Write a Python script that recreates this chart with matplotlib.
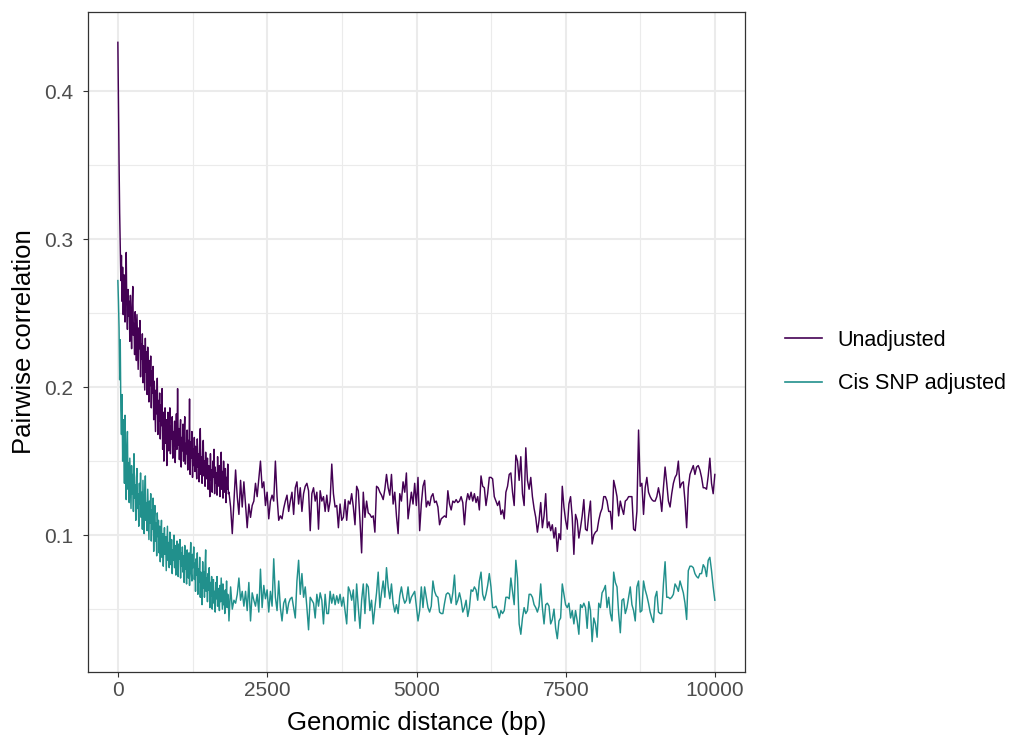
import numpy as np
import matplotlib
matplotlib.use("Agg")
import matplotlib.pyplot as plt
from matplotlib.lines import Line2D

# ---------------- data ----------------
series_labels = ["Unadjusted", "Cis SNP adjusted"]
series_colors = ["#440154", "#21908C"]

early_step = 10          # bp, short-distance bins
late_start, late_end = 1860, 9995

unadj_early = [
    0.433, 0.392, 0.352, 0.318, 0.296, 0.272, 0.289, 0.258, 0.281, 0.249,
    0.276, 0.262, 0.244, 0.270, 0.291, 0.252, 0.239, 0.266, 0.248, 0.258,
    0.231, 0.262, 0.246, 0.226, 0.255, 0.268, 0.235, 0.243, 0.222, 0.251,
    0.238, 0.218, 0.249, 0.231, 0.212, 0.240, 0.226, 0.245, 0.207, 0.229,
    0.219, 0.236, 0.203, 0.228, 0.214, 0.198, 0.233, 0.210, 0.224, 0.195,
    0.227, 0.206, 0.190, 0.218, 0.201, 0.221, 0.186, 0.211, 0.196, 0.214,
    0.178, 0.204, 0.188, 0.170, 0.198, 0.182, 0.206, 0.168, 0.191, 0.177,
    0.196, 0.165, 0.188, 0.174, 0.199, 0.158, 0.183, 0.150, 0.176, 0.186,
    0.162, 0.178, 0.147, 0.171, 0.183, 0.157, 0.169, 0.186, 0.155, 0.174,
    0.165, 0.180, 0.152, 0.170, 0.160, 0.177, 0.149, 0.168, 0.182, 0.158,
    0.199, 0.161, 0.172, 0.151, 0.169, 0.178, 0.146, 0.166, 0.157, 0.175,
    0.150, 0.168, 0.180, 0.148, 0.162, 0.155, 0.171, 0.144, 0.164, 0.153,
    0.192, 0.141, 0.163, 0.152, 0.170, 0.139, 0.158, 0.147, 0.166, 0.143,
    0.160, 0.150, 0.138, 0.165, 0.146, 0.155, 0.136, 0.161, 0.172, 0.141,
    0.153, 0.135, 0.158, 0.164, 0.140, 0.150, 0.133, 0.156, 0.145, 0.138,
    0.152, 0.131, 0.147, 0.140, 0.126, 0.155, 0.137, 0.144, 0.129, 0.150,
    0.139, 0.158, 0.128, 0.146, 0.135, 0.142, 0.127, 0.153, 0.133, 0.140,
    0.147, 0.126, 0.138, 0.156, 0.131, 0.143, 0.125, 0.150, 0.137, 0.129,
    0.145, 0.122, 0.139, 0.131, 0.148, 0.128,
]
adj_early = [
    0.272, 0.258, 0.240, 0.205, 0.232, 0.185, 0.168, 0.195, 0.150, 0.178,
    0.162, 0.135, 0.181, 0.142, 0.124, 0.158, 0.170, 0.131, 0.149, 0.122,
    0.152, 0.136, 0.118, 0.147, 0.128, 0.141, 0.116, 0.155, 0.125, 0.134,
    0.110, 0.139, 0.145, 0.118, 0.128, 0.106, 0.135, 0.121, 0.142, 0.112,
    0.129, 0.104, 0.137, 0.118, 0.101, 0.126, 0.140, 0.110, 0.122, 0.103,
    0.131, 0.114, 0.097, 0.123, 0.108, 0.128, 0.096, 0.117, 0.104, 0.125,
    0.089, 0.112, 0.120, 0.096, 0.108, 0.086, 0.115, 0.099, 0.110, 0.088,
    0.106, 0.082, 0.098, 0.110, 0.085, 0.101, 0.079, 0.094, 0.105, 0.087,
    0.099, 0.076, 0.092, 0.106, 0.083, 0.095, 0.078, 0.102, 0.088, 0.080,
    0.097, 0.074, 0.090, 0.083, 0.100, 0.078, 0.093, 0.073, 0.087, 0.096,
    0.080, 0.072, 0.094, 0.084, 0.097, 0.071, 0.088, 0.079, 0.092, 0.075,
    0.086, 0.068, 0.093, 0.077, 0.084, 0.067, 0.090, 0.079, 0.071, 0.088,
    0.066, 0.083, 0.095, 0.074, 0.069, 0.087, 0.078, 0.092, 0.070, 0.081,
    0.062, 0.084, 0.073, 0.088, 0.060, 0.077, 0.068, 0.085, 0.058, 0.075,
    0.070, 0.053, 0.082, 0.064, 0.075, 0.058, 0.079, 0.090, 0.062, 0.071,
    0.055, 0.074, 0.063, 0.078, 0.051, 0.068, 0.059, 0.072, 0.050, 0.065,
    0.070, 0.054, 0.062, 0.048, 0.068, 0.057, 0.072, 0.052, 0.064, 0.058,
    0.049, 0.066, 0.055, 0.071, 0.060, 0.050, 0.067, 0.053, 0.062, 0.047,
    0.063, 0.055, 0.069, 0.051, 0.060, 0.057,
]

unadj_late = [
    0.129, 0.119, 0.101, 0.123, 0.144, 0.126, 0.114, 0.137, 0.119, 0.136,
    0.121, 0.105, 0.121, 0.112, 0.120, 0.123, 0.135, 0.126, 0.138, 0.150,
    0.132, 0.136, 0.120, 0.129, 0.111, 0.123, 0.127, 0.123, 0.150, 0.126,
    0.110, 0.113, 0.111, 0.118, 0.123, 0.127, 0.116, 0.123, 0.129, 0.114,
    0.132, 0.136, 0.121, 0.132, 0.116, 0.128, 0.133, 0.135, 0.130, 0.103,
    0.128, 0.132, 0.123, 0.129, 0.104, 0.130, 0.123, 0.126, 0.116, 0.127,
    0.116, 0.123, 0.148, 0.128, 0.119, 0.120, 0.105, 0.121, 0.110, 0.112,
    0.124, 0.110, 0.123, 0.121, 0.128, 0.119, 0.107, 0.133, 0.130, 0.110,
    0.088, 0.129, 0.112, 0.123, 0.115, 0.114, 0.112, 0.113, 0.102, 0.133,
    0.132, 0.129, 0.127, 0.124, 0.131, 0.141, 0.132, 0.127, 0.141, 0.121,
    0.129, 0.113, 0.101, 0.128, 0.123, 0.136, 0.129, 0.142, 0.111, 0.120,
    0.129, 0.121, 0.135, 0.120, 0.139, 0.103, 0.121, 0.133,
    0.137, 0.119, 0.123, 0.120, 0.126, 0.128, 0.122, 0.123, 0.119, 0.107,
    0.111, 0.112, 0.113, 0.112, 0.130, 0.121, 0.117, 0.123, 0.122, 0.124,
    0.122, 0.123, 0.126, 0.122, 0.107, 0.122, 0.128, 0.124, 0.129, 0.123,
    0.128, 0.122, 0.126, 0.117, 0.140, 0.133, 0.132, 0.120, 0.128, 0.139,
    0.139, 0.138, 0.126, 0.123, 0.120, 0.123, 0.114, 0.117, 0.111, 0.129,
    0.133, 0.141, 0.142, 0.129, 0.120, 0.154, 0.150, 0.137,
    0.153, 0.128, 0.120, 0.159, 0.137, 0.131, 0.139, 0.126, 0.118, 0.112,
    0.102, 0.110, 0.122, 0.105, 0.113, 0.128, 0.105, 0.109, 0.103, 0.107,
    0.098, 0.105, 0.089, 0.101, 0.097, 0.133, 0.119, 0.110, 0.104, 0.121,
    0.126, 0.112, 0.087, 0.114, 0.110, 0.098, 0.105, 0.113, 0.124, 0.104,
    0.103, 0.114, 0.123, 0.094, 0.100, 0.102, 0.103, 0.110, 0.115, 0.118,
    0.126, 0.126, 0.123, 0.116, 0.116, 0.104, 0.137, 0.132,
    0.126, 0.113, 0.123, 0.118, 0.114, 0.123, 0.124, 0.126, 0.126, 0.126,
    0.104, 0.103, 0.116, 0.171, 0.133, 0.135, 0.114, 0.132, 0.139, 0.129,
    0.126, 0.124, 0.123, 0.123, 0.126, 0.132, 0.126, 0.116, 0.132, 0.146,
    0.135, 0.123, 0.119, 0.128, 0.135, 0.139, 0.141, 0.150, 0.132, 0.135,
    0.136, 0.123, 0.105, 0.132, 0.141, 0.144, 0.147, 0.141, 0.146, 0.147,
    0.144, 0.139, 0.132, 0.132, 0.131, 0.140, 0.152, 0.135, 0.128, 0.141,
]
adj_late = [
    0.042, 0.065, 0.050, 0.056, 0.054, 0.060, 0.071, 0.056, 0.062, 0.052,
    0.062, 0.049, 0.068, 0.042, 0.061, 0.056, 0.052, 0.060, 0.048, 0.077,
    0.051, 0.066, 0.057, 0.063, 0.048, 0.062, 0.052, 0.084, 0.058, 0.049,
    0.069, 0.051, 0.042, 0.054, 0.057, 0.047, 0.054, 0.057, 0.058, 0.051,
    0.044, 0.069, 0.083, 0.060, 0.074, 0.058, 0.065, 0.051, 0.036, 0.058,
    0.056, 0.054, 0.044, 0.060, 0.052, 0.061, 0.056, 0.040, 0.060, 0.047,
    0.047, 0.062, 0.054, 0.060, 0.053, 0.059, 0.054, 0.060, 0.052, 0.058,
    0.049, 0.040, 0.065, 0.062, 0.056, 0.063, 0.042, 0.067, 0.051, 0.037,
    0.056, 0.067, 0.047, 0.067, 0.065, 0.049, 0.056, 0.040, 0.051, 0.061,
    0.075, 0.051, 0.061, 0.069, 0.058, 0.078, 0.065, 0.057, 0.067, 0.054,
    0.048, 0.053, 0.047, 0.059, 0.065, 0.058, 0.054, 0.056, 0.065, 0.054,
    0.058, 0.060, 0.062, 0.052, 0.042, 0.049, 0.065, 0.051,
    0.065, 0.058, 0.051, 0.048, 0.052, 0.069, 0.062, 0.059, 0.058, 0.048,
    0.047, 0.047, 0.054, 0.060, 0.061, 0.060, 0.054, 0.061, 0.073, 0.053,
    0.056, 0.061, 0.056, 0.048, 0.051, 0.056, 0.045, 0.051, 0.063, 0.062,
    0.065, 0.063, 0.056, 0.069, 0.075, 0.060, 0.056, 0.060, 0.066, 0.074,
    0.065, 0.051, 0.051, 0.052, 0.049, 0.044, 0.049, 0.047, 0.049, 0.058,
    0.058, 0.057, 0.071, 0.062, 0.053, 0.083, 0.071, 0.040,
    0.033, 0.044, 0.051, 0.047, 0.049, 0.060, 0.060, 0.058, 0.053, 0.051,
    0.048, 0.052, 0.067, 0.051, 0.040, 0.053, 0.054, 0.052, 0.040, 0.043,
    0.050, 0.037, 0.030, 0.042, 0.044, 0.067, 0.060, 0.053, 0.051, 0.054,
    0.044, 0.049, 0.040, 0.049, 0.042, 0.033, 0.053, 0.051, 0.054, 0.051,
    0.037, 0.055, 0.049, 0.028, 0.044, 0.040, 0.031, 0.054, 0.051, 0.061,
    0.063, 0.066, 0.051, 0.058, 0.047, 0.042, 0.075, 0.068,
    0.065, 0.047, 0.034, 0.056, 0.057, 0.047, 0.051, 0.058, 0.065, 0.053,
    0.049, 0.042, 0.065, 0.069, 0.048, 0.049, 0.069, 0.063, 0.059, 0.054,
    0.048, 0.044, 0.041, 0.058, 0.062, 0.048, 0.047, 0.047, 0.067, 0.082,
    0.058, 0.058, 0.057, 0.058, 0.060, 0.067, 0.065, 0.062, 0.069, 0.065,
    0.061, 0.054, 0.043, 0.076, 0.079, 0.079, 0.078, 0.074, 0.072, 0.071,
    0.074, 0.074, 0.080, 0.078, 0.072, 0.083, 0.085, 0.076, 0.065, 0.056,
]

x_ticks = [0, 2500, 5000, 7500, 10000]
x_tick_labels = ["0", "2500", "5000", "7500", "10000"]
y_ticks = [0.1, 0.2, 0.3, 0.4]
y_tick_labels = ["0.1", "0.2", "0.3", "0.4"]


def build(early, late):
    xe = np.arange(len(early)) * early_step
    xl = np.linspace(late_start, late_end, len(late))
    return np.concatenate([xe, xl]), np.array(early + late)


series = [build(unadj_early, unadj_late), build(adj_early, adj_late)]

# ---------------- figure ----------------
plt.rcParams['font.family'] = ['Liberation Sans', 'DejaVu Sans']
W, H = 1010, 736
fig = plt.figure(figsize=(W / 100, H / 100), dpi=100)
ax = fig.add_axes([88 / W, 1 - 672 / H, (745 - 88) / W, (672 - 12) / H])

for (x, y), c, lab in zip(series, series_colors, series_labels):
    ax.plot(x, y, color=c, lw=1.05, label=lab)

ax.set_xlim(-500, 10500)
ax.set_ylim(0.0075, 0.4535)

ax.set_xticks(x_ticks)
ax.set_xticklabels(x_tick_labels)
ax.set_yticks(y_ticks)
ax.set_yticklabels(y_tick_labels)
ax.set_xticks([1250, 3750, 6250, 8750], minor=True)
ax.set_yticks([0.05, 0.15, 0.25, 0.35], minor=True)

ax.grid(True, which='major', color='#EBEBEB', lw=1.5)
ax.grid(True, which='minor', color='#EBEBEB', lw=0.8)
ax.set_axisbelow(True)
ax.tick_params(which='minor', length=0)
ax.tick_params(which='major', length=3.5, width=0.8, color='#333333',
               labelsize=15, labelcolor='#4D4D4D', pad=3)
ax.tick_params(axis='y', which='major', pad=7)
for s in ax.spines.values():
    s.set_color('#333333')
    s.set_linewidth(0.9)

ax.set_xlabel("Genomic distance (bp)", fontsize=18.5, color='black', labelpad=8)
ax.set_ylabel("Pairwise correlation", fontsize=18.5, color='black', labelpad=6)

handles = [Line2D([], [], color=c, lw=1.2) for c in series_colors]
fig.legend(handles, series_labels, loc='center left',
           bbox_to_anchor=(785 / W, 1 - 362 / H), frameon=False,
           fontsize=15.5, handlelength=1.7, handletextpad=0.75,
           labelspacing=1.05, borderpad=0, borderaxespad=0)

fig.savefig("out.png", dpi=100)
